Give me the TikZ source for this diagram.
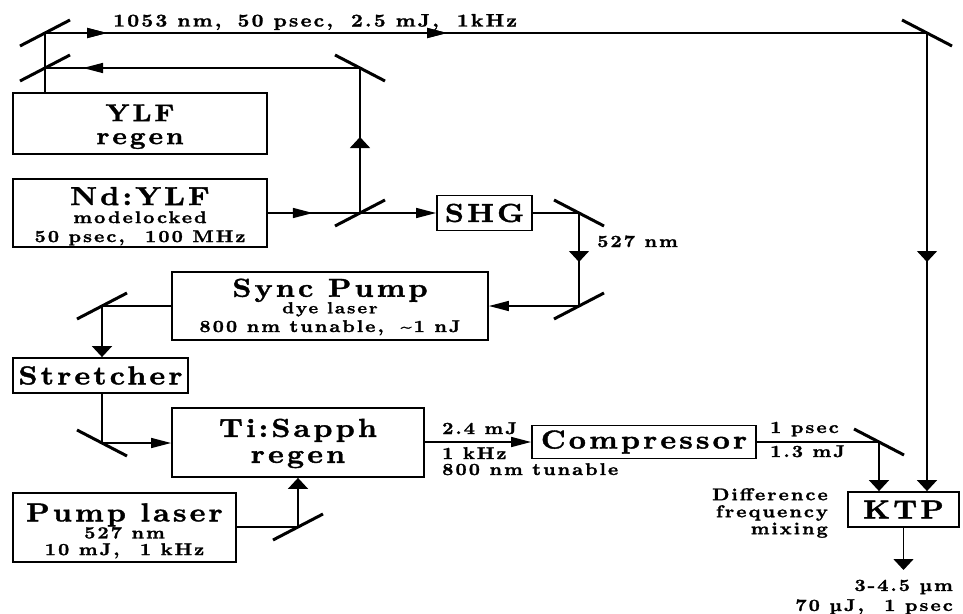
\documentclass[tikz,border=0pt]{standalone}
\usepackage{fontspec}
\usetikzlibrary{arrows.meta,decorations.markings,calc}
\newfontfamily\labfont{lmroman10-bold.otf}[LetterSpace=12, FakeStretch=1.15, FakeBold=1.5]
\newcommand\fbig{\labfont\fontsize{26}{22}\selectfont}
\newcommand\fmid{\labfont\fontsize{17}{19}\selectfont}
\newcommand\fsml{\labfont\fontsize{16}{17}\selectfont}
\newcommand\lift[1]{\rule{0pt}{#1}}
\newcommand\mirrorup[1]{\draw[mirror] ($(#1)+(-25,13)$) -- ($(#1)+(25,-13)$);}
\newcommand\mirrordn[1]{\draw[mirror] ($(#1)+(-25,-13)$) -- ($(#1)+(25,13)$);}
\tikzset{
  box/.style={draw, line width=1.8pt, inner sep=0pt, align=center, font=\fbig},
  beam/.style={line width=1.5pt},
  mirror/.style={line width=3pt},
  lab/.style={inner sep=0pt, font=\fmid},
  htip/.tip={Triangle[length=20pt,width=10pt]},
  vtip/.tip={Triangle[length=11pt,width=20pt]},
  harrat/.style={postaction={decorate},decoration={markings,mark=at position #1 with {\arrow{htip}}}},
  varrat/.style={postaction={decorate},decoration={markings,mark=at position #1 with {\arrow{vtip}}}},
}
\begin{document}
\begin{tikzpicture}[x=1pt,y=-1pt]
\useasboundingbox[fill=white] (0,0) rectangle (963,613);
% mirrors
\coordinate (mTL) at (45,33);
\coordinate (mL2) at (45,68);
\coordinate (mTR) at (927,33);
\coordinate (m2) at (360,68);
\coordinate (m3) at (360,213);
\coordinate (m4) at (579,213);
\coordinate (m5) at (579,306);
\coordinate (m6) at (102,306);
\coordinate (m7) at (102,443);
\coordinate (m8) at (298,527);
\coordinate (m9) at (879,442);
\coordinate (out) at (903.5,570);
% boxes
\node[box, minimum width=254pt, minimum height=61pt, font=\labfont\fontsize{24}{22}\selectfont] (ylf) at (140,123.5)
  {\lift{23pt}YLF\\[1pt]regen};
\node[box, minimum width=254pt, minimum height=68pt] (nd) at (140,213)
  {\lift{24.4pt}Nd:YLF\\[-4pt]\fmid modelocked\\[-3pt]\fmid 50 psec,\hspace{1.2em}100 MHz};
\node[box, minimum width=95pt, minimum height=35pt] (shg) at (484.5,213)
  {SHG};
\node[box, minimum width=316pt, minimum height=68pt] (sync) at (330,306)
  {\lift{20.1pt}Sync Pump\\[-5.5pt]\fsml dye laser\\[-3.3pt]\fmid 800 nm tunable,\hspace{1em}\textasciitilde1 nJ};
\node[box, minimum width=175pt, minimum height=35pt] (str) at (100.5,375.5)
  {Stretcher};
\node[box, minimum width=252pt, minimum height=69pt] (ti) at (298,442.5)
  {\lift{20pt}Ti:Sapph\\[4pt]regen};
\node[box, minimum width=223pt, minimum height=69pt] (pump) at (124.5,527.5)
  {\lift{24.8pt}Pump laser\\[-5pt]\fmid 527 nm\\[-5.3pt]\fmid 10 mJ,\hspace{1.2em}1 kHz};
\node[box, minimum width=224pt, minimum height=33pt] (comp) at (644,442)
  {Compressor};
\node[box, minimum width=111pt, minimum height=35pt] (ktp) at (903.5,509.5)
  {KTP};
% beams
\draw[beam] (mTL) -- (mTL |- ylf.north);
\draw[beam, harrat=62pt, harrat=402pt] (mTL) -- (mTR);
\draw[beam, varrat=229pt, -vtip] (mTR) -- (mTR |- ktp.north);
\draw[beam, harrat=277pt] (m2) -- (mL2);
\draw[beam, varrat=76pt] (m3) -- (m2);
\draw[beam, harrat=45pt] (nd.east |- m3) -- (m3);
\draw[beam, -htip] (m3) -- (m3 -| shg.west);
\draw[beam] (m4 -| shg.east) -- (m4);
\draw[beam, varrat=49pt] (m4) -- (m5);
\draw[beam, -htip] (m5) -- (m5 -| sync.east);
\draw[beam] (m6 -| sync.west) -- (m6);
\draw[beam, -vtip] (m6) -- (m6 |- str.north);
\draw[beam] (m7 |- str.south) -- (m7);
\draw[beam, -htip] (m7) -- (m7 -| ti.west);
\draw[beam] (m8 -| pump.east) -- (m8);
\draw[beam, -vtip] (m8) -- (m8 |- ti.south);
\draw[beam, -htip] (ti.east |- comp) -- (comp.west);
\draw[beam] (comp.east |- m9) -- (m9);
\draw[beam, -vtip] (m9) -- (m9 |- ktp.north);
\draw[beam, -vtip] (ktp.south) -- (out);
% mirrors drawn
\mirrorup{mTL}
\mirrorup{mL2}
\mirrordn{mTR}
\mirrordn{m2}
\mirrorup{m3}
\mirrordn{m4}
\mirrorup{m5}
\mirrorup{m6}
\mirrordn{m7}
\mirrorup{m8}
\mirrordn{m9}
% labels
\node[lab, anchor=base west, font=\labfont\fontsize{18}{19}\selectfont] (ltop) at (113,26.5)
  {1053 nm,\hspace{0.9em}50 psec,\hspace{1em}2.5 mJ,\hspace{1em}1kHz};
\node[lab, anchor=base west] (l527) at (597,247) {527 nm};
\node[lab, anchor=base west] (l24) at (442,434) {2.4 mJ};
\node[lab, anchor=base west] (l1k) at (442,459) {1 kHz};
\node[lab, anchor=base west] (l800) at (442,475) {800 nm tunable};
\node[lab, anchor=base west] (l1ps) at (770,433) {1 psec};
\node[lab, anchor=base west] (l13) at (770,457) {1.3 mJ};
\node[lab, anchor=east, align=right, font=\labfont\fontsize{17}{17}\selectfont] (ldfm) at (828,513)
  {Difference\\frequency\\mixing};
\node[lab, anchor=east, align=right, font=\labfont\fontsize{17}{20}\selectfont] (lout) at (953,597)
  {3-4.5 µm\\70 µJ,\hspace{1.2em}1 psec};
\end{tikzpicture}
\end{document}
